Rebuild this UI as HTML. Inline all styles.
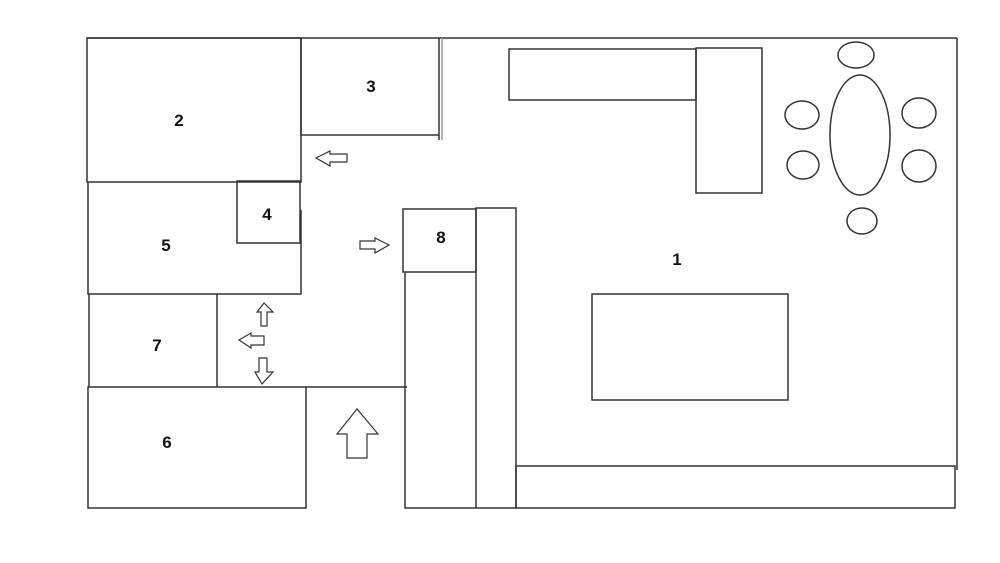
<!DOCTYPE html>
<html><head><style>body{margin:0;background:#fff}</style></head><body>
<svg width="1000" height="563" viewBox="0 0 1000 563" xmlns="http://www.w3.org/2000/svg" style="display:block">
<rect width="1000" height="563" fill="#fff"/>
<g fill="none" stroke="#333" stroke-width="1.5">
<line x1="87" y1="38" x2="957" y2="38"/>
<line x1="957" y1="38" x2="957" y2="470"/>
<rect x="87" y="38" width="214" height="144"/>
<polyline points="301,38 301,135 439,135"/>
<line x1="439" y1="38" x2="439" y2="140"/>
<line x1="442" y1="38" x2="442" y2="140" stroke="#999"/>
<polyline points="88,182 88,294 301,294 301,210"/>
<rect x="237" y="181" width="63" height="62"/>
<polyline points="89,294 89,387"/>
<line x1="217" y1="294" x2="217" y2="387"/>
<rect x="88" y="387" width="218" height="121"/>
<line x1="306" y1="387" x2="407" y2="387"/>
<rect x="403" y="209" width="73" height="63"/>
<polyline points="405,272 405,508 516,508 516,208 476,208 476,508"/>
<rect x="516" y="466" width="439" height="42"/>
<rect x="509" y="49" width="187" height="51"/>
<rect x="696" y="48" width="66" height="145"/>
<rect x="592" y="294" width="196" height="106"/>
<ellipse cx="860" cy="135" rx="30" ry="60"/>
<ellipse cx="856" cy="55" rx="18" ry="13"/>
<ellipse cx="802" cy="115" rx="17" ry="14"/>
<ellipse cx="919" cy="113" rx="17" ry="15"/>
<ellipse cx="803" cy="165" rx="16" ry="14"/>
<ellipse cx="919" cy="166" rx="17" ry="16"/>
<ellipse cx="862" cy="221" rx="15" ry="13"/>
</g>
<g fill="#fff" stroke="#333" stroke-width="1.2">
<polygon points="316,158 330,151 330,154 347,154 347,162 330,162 330,166"/>
<polygon points="389,245 375,238 375,241 360,241 360,249 375,249 375,253"/>
<polygon points="264,303 257,312 261,312 261,326 267,326 267,312 273,312"/>
<polygon points="239,340 251,333 251,336 264,336 264,345 251,345 251,348"/>
<polygon points="262,384 255,372 259,372 259,358 267,358 267,372 273,372"/>
<polygon points="357,409 337,434 347,434 347,458 367,458 367,434 378,434"/>
</g>
<g font-family="Liberation Sans, sans-serif" font-weight="bold" font-size="17" fill="#111" text-anchor="middle">
<text x="179" y="126">2</text>
<text x="371" y="92">3</text>
<text x="267" y="220">4</text>
<text x="166" y="251">5</text>
<text x="157" y="351">7</text>
<text x="167" y="448">6</text>
<text x="441" y="243">8</text>
<text x="677" y="265">1</text>
</g>
</svg>
</body></html>
